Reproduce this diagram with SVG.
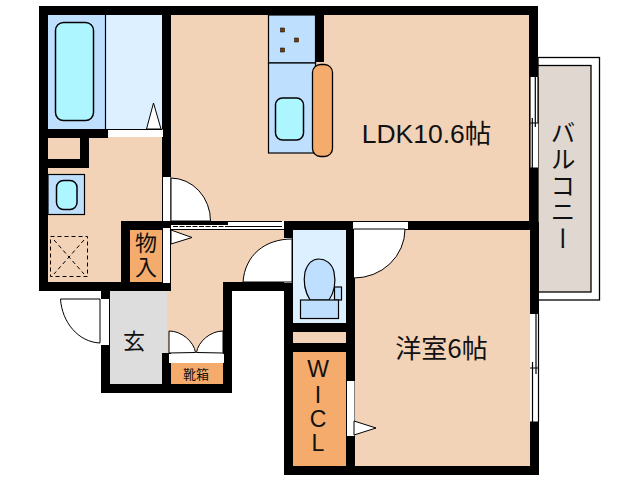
<svg xmlns="http://www.w3.org/2000/svg" width="638" height="480" viewBox="0 0 638 480">
<style>
.wall{fill:#000}
.floor{fill:#F2D3B8}
.pale{fill:#DDF0FF}
.blue{fill:#BFDFFF;stroke:#000;stroke-width:1.200}
.cyan{fill:#AEF6FF;stroke:#000;stroke-width:1.500}
.store{fill:#F4AB6C}
.gap{fill:#fff}
.line{fill:none;stroke:#000;stroke-width:1.200}
.dash{fill:none;stroke:#000;stroke-width:1;stroke-dasharray:4 3}
text{font-family:"Noto Sans CJK JP","Liberation Sans",sans-serif;fill:#111;text-anchor:middle}
.lat{font-family:"Liberation Sans",sans-serif}
.v{writing-mode:vertical-rl;text-orientation:upright}
</style>
<rect width="638" height="480" fill="#fff"/>
<g id="balcony">
<rect x="538" y="57.500" width="61.500" height="242.500" fill="#fff" stroke="#000" stroke-width="1.300"/>
<rect x="538" y="65.500" width="53" height="226.500" fill="#E0D8D0" stroke="#000" stroke-width="1.300"/>
<text class="v" x="563" y="186" font-size="25" letter-spacing="1.500">バルコニー</text>
</g>
<g id="ldk">
<rect class="floor" x="171" y="15" width="359" height="206"/>
<text class="lat" x="426.500" y="143" font-size="26.500">LDK10.6<tspan font-family="Noto Sans CJK JP">帖</tspan></text>
</g>
<g id="kitchen">
<rect class="blue" x="268.500" y="15" width="47" height="48"/>
<rect class="blue" x="268.500" y="63" width="47" height="90"/>
<rect x="280.500" y="28" width="4" height="4" fill="#7A3A00" stroke="#000" stroke-width=".5"/>
<rect x="294.500" y="38" width="4" height="4" fill="#7A3A00" stroke="#000" stroke-width=".5"/>
<rect x="280.500" y="48" width="4" height="4" fill="#7A3A00" stroke="#000" stroke-width=".5"/>
<rect class="cyan" x="275.500" y="98" width="28" height="42" rx="7"/>
<rect x="312.500" y="64.500" width="20" height="92" rx="8" fill="#F4AB6C" stroke="#000" stroke-width="1.300"/>
</g>
<g id="bath">
<rect x="48" y="15" width="57.500" height="114" fill="#BFDFFF"/>
<rect class="pale" x="105.500" y="15" width="57" height="114"/>
<path class="line" d="M105.500 15V129"/>
<rect class="cyan" x="55.500" y="22.500" width="38" height="98" rx="8"/>
<path d="M146.500 129L153.500 103L161 129Z" fill="#fff" stroke="#000" stroke-width="1"/>
</g>
<g id="washroom">
<rect class="floor" x="48" y="137" width="114" height="145"/>
<rect class="blue" x="48" y="174.500" width="36.500" height="40"/>
<rect class="cyan" x="56.500" y="180.500" width="20.500" height="29" rx="7"/>
<rect class="dash" x="50.500" y="236.500" width="37" height="40"/>
<path class="dash" d="M54 240L84 274M84 240L54 274"/>
</g>
<g id="hall">
<rect class="floor" x="171" y="230" width="113" height="52"/>
<rect class="floor" x="167" y="282" width="56" height="71"/>
</g>
<g id="entrance">
<rect x="110" y="291" width="57" height="93" fill="#DDDDDD"/>
<text x="134" y="349" font-size="22">玄</text>
</g>
<g id="shoebox">
<rect class="store" x="171" y="363" width="52" height="21"/>
<text x="196" y="379" font-size="13">靴箱</text>
</g>
<g id="toilet">
<rect class="pale" x="293" y="230" width="53" height="93"/>
<path class="blue" d="M310 300C304 290 303 282 305 272C308 262 314 259 319 259C325 259 332 263 334 272C336 282 335 291 329 300Z"/>
<rect class="blue" x="334.500" y="287" width="7" height="13"/>
<rect class="blue" x="300.500" y="300" width="38" height="18.500"/>
</g>
<g id="storage">
<rect class="floor" x="293" y="332" width="53" height="11"/>
</g>
<g id="wic">
<rect class="store" x="293" y="352" width="53" height="114"/>
<text class="lat" x="318" y="377" font-size="23">W</text>
<text class="lat" x="318" y="403" font-size="23">I</text>
<text class="lat" x="318" y="427" font-size="23">C</text>
<text class="lat" x="318" y="451" font-size="23">L</text>
</g>
<g id="bedroom">
<rect class="floor" x="355" y="230" width="175" height="236"/>
<text x="441.500" y="358" font-size="26">洋室6帖</text>
</g>
<g id="walls" class="wall">
<rect x="39" y="6" width="499" height="9"/>
<rect x="39" y="6" width="9" height="285"/>
<rect x="162" y="6" width="9" height="216"/>
<rect x="315" y="15" width="9" height="47"/>
<rect x="529" y="6" width="9" height="224"/>
<rect x="530" y="222" width="9" height="253"/>
<rect x="48" y="129" width="60" height="9"/>
<rect x="80" y="138" width="9" height="30"/>
<rect x="48" y="159" width="41" height="9"/>
<rect x="39" y="282" width="132" height="9"/>
<rect x="121" y="221" width="9" height="61"/>
<rect x="121" y="221" width="50" height="9"/>
<rect x="162" y="222" width="9" height="69"/>
<rect x="284" y="221" width="71" height="9"/>
<rect x="284" y="221" width="9" height="254"/>
<rect x="346" y="221" width="9" height="254"/>
<rect x="293" y="323" width="53" height="9"/>
<rect x="293" y="343" width="53" height="9"/>
<rect x="284" y="466" width="255" height="9"/>
<rect x="355" y="221" width="175" height="9"/>
<rect x="223" y="282" width="61" height="9"/>
<rect x="223" y="282" width="9" height="111"/>
<rect x="101" y="291" width="9" height="102"/>
<rect x="101" y="384" width="131" height="9"/>
<rect x="162" y="353" width="9" height="31"/>
</g>
<g id="closet">
<rect class="store" x="130" y="230" width="32" height="52"/>
<text class="v" x="146" y="256" font-size="22" letter-spacing="2">物入</text>
</g>
<g id="openings">
<rect class="gap" x="108" y="129.500" width="55" height="7.500"/>
<path class="line" d="M108 129.500H162"/>
<rect class="gap" x="163" y="177" width="7.500" height="44"/>
<rect class="gap" x="163" y="228" width="7" height="55"/>
<rect class="gap" x="100" y="299" width="9" height="46"/>
<rect class="gap" x="169" y="354" width="55" height="9"/>
<rect class="gap" x="284" y="238" width="8" height="45"/>
<rect class="gap" x="347" y="381" width="7.500" height="55"/>
<rect class="gap" x="353" y="222" width="55" height="7"/>
<rect class="gap" x="530" y="77" width="8" height="91"/>
<rect class="gap" x="530" y="314" width="8.500" height="108"/>
<rect class="gap" x="171" y="222" width="113" height="8"/>
<path class="wall" d="M166 221H228V225H166Z"/>
<path d="M173 226.500H228" stroke="#000" stroke-width="1.200" stroke-dasharray="5 1.500" fill="none"/>
<path d="M228 221.500H282M228 226.500H282" stroke="#000" stroke-width="1.200"/>
<path class="line" d="M171 229.500H284"/>
</g>
<g id="connectors" fill="#fff" stroke="#000" stroke-width="1">
<path d="M171 178A40 43 0 0 1 210.500 221H171Z"/>
<path d="M171 230L192 237.500L171 244Z"/>
<path d="M292 239C265 239 245 255 243 282H292Z"/>
<path d="M100 299H60.500C62 322 78 342 100 343Z"/>
<path d="M169 353V331C182 331 194 342 195.500 352.500Z"/>
<path d="M223 353V331C210 331 198 342 196.500 352.500Z"/>
<path d="M353.500 229H405A51 49 0 0 1 353.500 278Z"/>
<path d="M354 421L376 428L354 435Z"/>
<path class="line" d="M530 77V168M535.300 77V127M532.300 118V168M538 77V123M530 123H538.500M538 168H530"/>
<path class="line" d="M536 314V374M532.500 362V422M538.500 314V422M530 368H538.500M530 422H538.500"/>
</g>
</svg>
